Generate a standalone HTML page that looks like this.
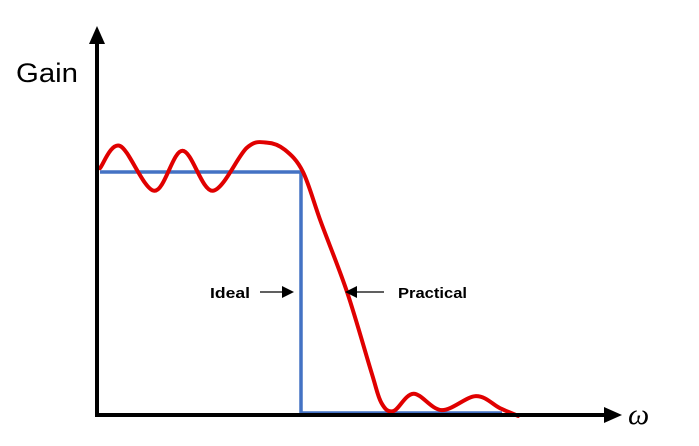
<!DOCTYPE html>
<html><head><meta charset="utf-8"><style>
body{margin:0;background:#fff;}
svg{display:block;font-family:"Liberation Sans",sans-serif;}
</style></head><body>
<svg id="c" width="699" height="446" viewBox="0 0 699 446">
<text x="16" y="82" font-size="27" textLength="62" lengthAdjust="spacingAndGlyphs" fill="#000">Gain</text>
<text x="628" y="424" font-size="30" font-style="italic" font-family="Liberation Serif, serif" fill="#000">ω</text>
<g id="plot"></g>
<line x1="97" y1="417" x2="97" y2="40" stroke="#000" stroke-width="4"/>
<polygon points="97,26 89,44 105,44" fill="#000"/>
<line x1="95" y1="415" x2="606" y2="415" stroke="#000" stroke-width="4"/>
<polygon points="622,415 604,407 604,423" fill="#000"/>
<text x="210" y="298" font-size="15" font-weight="bold" textLength="40" lengthAdjust="spacingAndGlyphs">Ideal</text>
<line x1="260" y1="292" x2="284" y2="292" stroke="#000" stroke-width="1.2"/>
<polygon points="294,292 282,286 282,298" fill="#000"/>
<text x="398" y="298" font-size="15" font-weight="bold" textLength="69" lengthAdjust="spacingAndGlyphs">Practical</text>
<line x1="384" y1="292" x2="356" y2="292" stroke="#000" stroke-width="1.2"/>
<polygon points="345,292 357,286 357,298" fill="#000"/>
</svg>
<script>
const idealX=[0,0.5,0.5,1.0];
const idealY=[1,1,0,0];
const practicalX=[0.0,0.05,0.135,0.205,0.28,0.365,0.415,0.46,0.505,0.55,0.615,0.675,0.70,0.73,0.78,0.85,0.935,0.995,1.04];
const practicalY=[1.016,1.108,0.922,1.088,0.922,1.100,1.122,1.092,1.0,0.79,0.50,0.17,0.042,0.008,0.08,0.012,0.07,0.02,-0.012];
const X0=100,X1=502,Y0=413,Y1=172;
const sx=v=>X0+v*(X1-X0), sy=v=>Y0+v*(Y1-Y0);
const g=document.getElementById('plot');
const NS='http://www.w3.org/2000/svg';
let d='';
idealX.forEach((v,i)=>{d+=(i?'L':'M')+sx(v)+','+sy(idealY[i]);});
const ip=document.createElementNS(NS,'path');
ip.setAttribute('d',d);ip.setAttribute('fill','none');ip.setAttribute('stroke','#4472c4');ip.setAttribute('stroke-width','3.5');


g.appendChild(ip);
const P=practicalX.map((v,i)=>[sx(v),sy(practicalY[i])]);
let pd='M'+P[0][0]+','+P[0][1];
for(let i=0;i<P.length-1;i++){
 const p0=P[i-1]||P[i],p1=P[i],p2=P[i+1],p3=P[i+2]||P[i+1];
 const c1=[p1[0]+(p2[0]-p0[0])/6,p1[1]+(p2[1]-p0[1])/6];
 const c2=[p2[0]-(p3[0]-p1[0])/6,p2[1]-(p3[1]-p1[1])/6];
 pd+=`C${c1[0]},${c1[1]} ${c2[0]},${c2[1]} ${p2[0]},${p2[1]}`;
}
const pp=document.createElementNS(NS,'path');
pp.setAttribute('d',pd);pp.setAttribute('fill','none');pp.setAttribute('stroke','#e00000');pp.setAttribute('stroke-width','4');pp.setAttribute('stroke-linecap','round');


g.appendChild(pp);
</script>
</body></html>
